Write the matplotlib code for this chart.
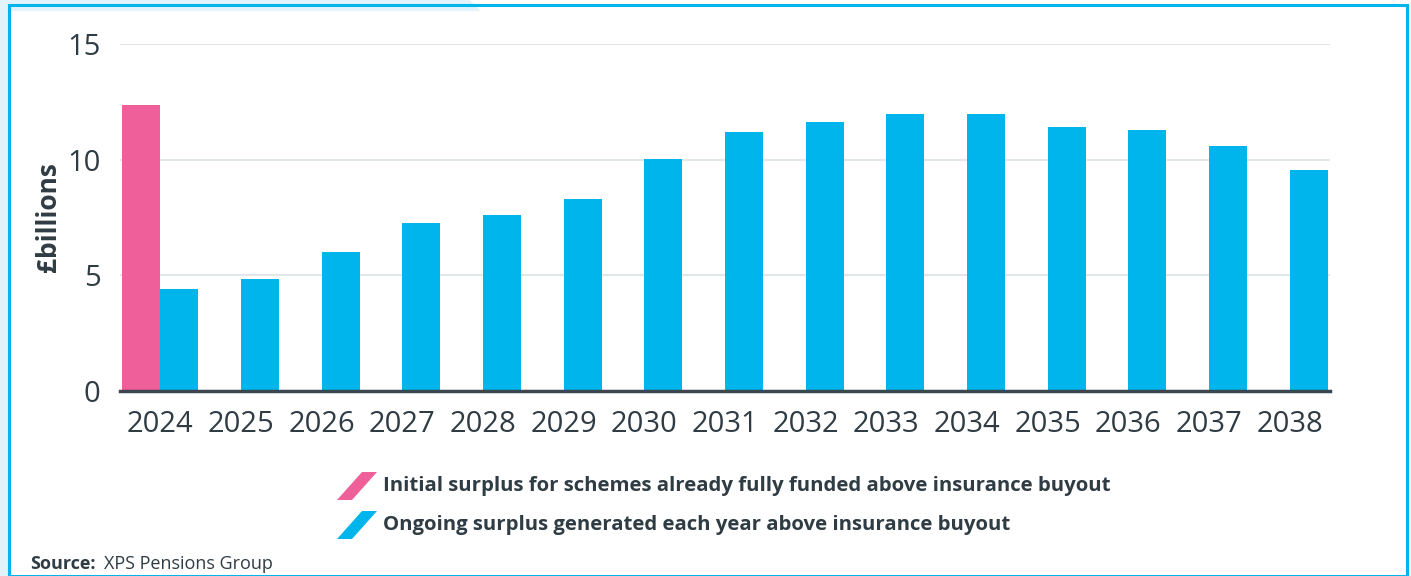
import matplotlib.pyplot as plt
from matplotlib.patches import Polygon, Rectangle
import numpy as np

years = ['2024', '2025', '2026', '2027', '2028', '2029', '2030', '2031',
         '2032', '2033', '2034', '2035', '2036', '2037', '2038']
initial_surplus = [12.35, 0, 0, 0, 0, 0, 0, 0, 0, 0, 0, 0, 0, 0, 0]
ongoing_surplus = [4.41, 4.84, 6.01, 7.26, 7.61, 8.30, 10.03, 11.20,
                   11.63, 11.98, 11.98, 11.41, 11.28, 10.59, 9.55]
y_ticks = [0, 5, 10, 15]

legend_labels = ['Initial surplus for schemes already fully funded above insurance buyout',
                 'Ongoing surplus generated each year above insurance buyout']

PINK = '#ef5f99'
BLUE = '#00b5ec'
TEXT = '#2f3c44'

plt.rcParams['font.family'] = ['Open Sans', 'DejaVu Sans']

W, H = 1411, 576
fig = plt.figure(figsize=(W / 100, H / 100), dpi=100)
fig.patch.set_facecolor('white')

def px(x, y):
    # pixel coords (top-left origin) to figure fraction
    return (x / W, 1 - y / H)

# light blue backdrop around the card
bg = Polygon([px(0, 0), px(470, 0), px(480, 11), px(9, 11), px(9, 576), px(0, 576)],
             closed=True, transform=fig.transFigure, facecolor='#e2f3fb',
             edgecolor='none', zorder=0)
fig.patches.append(bg)
# card border
x0, y0 = px(9, 576)
x1, y1 = px(1407, 11)
card = Rectangle((x0, y0), x1 - x0, y1 - y0 + 0.01, transform=fig.transFigure,
                 facecolor='none', edgecolor=BLUE, linewidth=2.2, zorder=1)
fig.patches.append(card)

ax = fig.add_axes([120 / W, 1 - 391 / H, 1210 / W, 347 / H])
ax.set_facecolor('none')

x = np.arange(len(years))
bw = 0.47
ax.bar(x - bw / 2, initial_surplus, width=bw, color=PINK, zorder=3)
ax.bar(x + bw / 2, ongoing_surplus, width=bw, color=BLUE, zorder=3)

ax.set_xlim(-0.5, len(years) - 0.5)
ax.set_ylim(0, 15)
ax.set_yticks(y_ticks)
ax.set_xticks(x)
ax.set_xticklabels(years)
ax.yaxis.grid(True, color='#e1e7e9', linewidth=1.5, zorder=0)
ax.set_axisbelow(True)
for s in ['top', 'right', 'left']:
    ax.spines[s].set_visible(False)
ax.spines['bottom'].set_color('#3a4750')
ax.spines['bottom'].set_linewidth(2.5)
ax.spines['bottom'].set_zorder(4)
ax.tick_params(axis='both', length=0, labelsize=21, colors=TEXT)
ax.tick_params(axis='y', pad=14)
ax.tick_params(axis='x', pad=14)
ax.set_ylabel('£billions', fontsize=19, fontweight='bold', color=TEXT)
ax.yaxis.set_label_coords(-58 / 1210, 0.5)

# legend with slanted swatches
for i, (lab, col) in enumerate(zip(legend_labels, [PINK, BLUE])):
    yc = 486 + i * 39
    sw = Polygon([px(337, yc + 14), px(362, yc - 14), px(377, yc - 14), px(352, yc + 14)],
                 closed=True, transform=fig.transFigure, facecolor=col,
                 edgecolor='none')
    fig.patches.append(sw)
    fig.text(*px(383, yc), lab, fontsize=14.7, fontweight='bold', color=TEXT,
             va='center', ha='left')

fig.text(*px(30, 564), 'Source:', fontsize=13, fontweight='bold', color=TEXT,
         va='center', ha='left')
fig.text(*px(104, 564), 'XPS Pensions Group', fontsize=13, color=TEXT,
         va='center', ha='left')

fig.savefig('out.png', dpi=100, facecolor=fig.get_facecolor())
